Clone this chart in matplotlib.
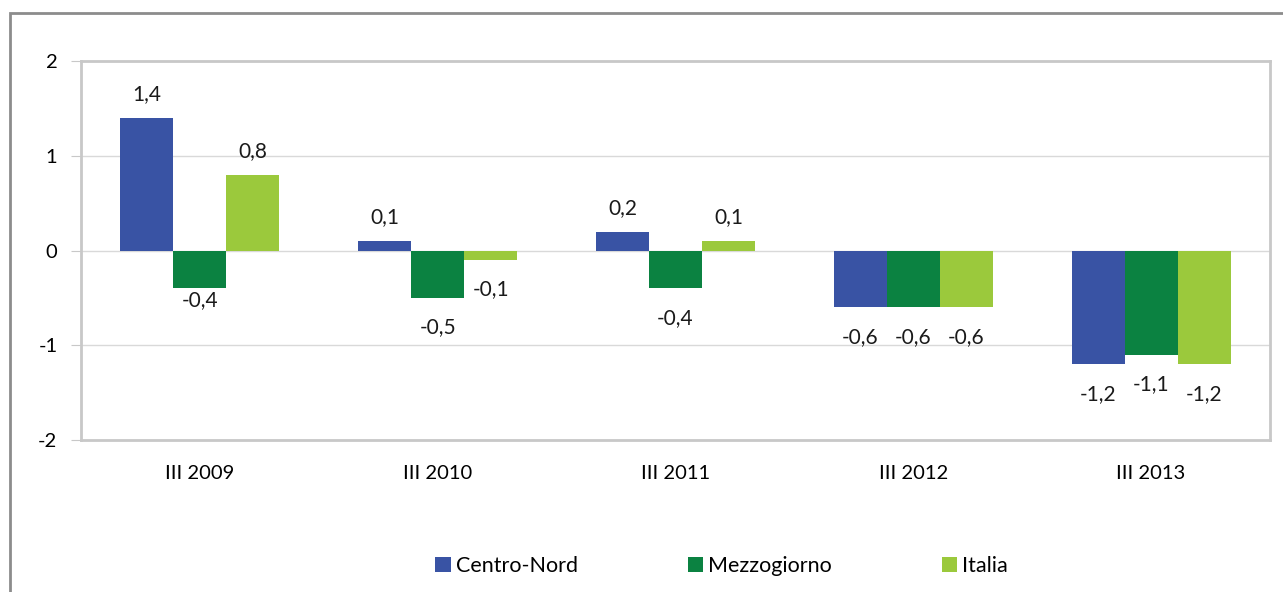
import numpy as np
import matplotlib.pyplot as plt
from matplotlib.patches import Rectangle

plt.rcParams['font.family'] = ['Lato', 'DejaVu Sans']

categories = ['III 2009', 'III 2010', 'III 2011', 'III 2012', 'III 2013']
centro_nord = [1.4, 0.1, 0.2, -0.6, -1.2]
mezzogiorno = [-0.4, -0.5, -0.4, -0.6, -1.1]
italia = [0.8, -0.1, 0.1, -0.6, -1.2]

series = [('Centro-Nord', centro_nord, '#3953a4'),
          ('Mezzogiorno', mezzogiorno, '#0b8241'),
          ('Italia', italia, '#9bc93c')]

# one label sits closer to its bar in the original
nudge = {(1, 0): 13}

fig = plt.figure(figsize=[12.83, 5.92], dpi=100)
ax = fig.add_axes([81 / 1283, 1 - 440 / 592, (1270 - 81) / 1283, (440 - 61) / 592])

x = np.arange(len(categories))
w = 0.223
for i, (name, vals, col) in enumerate(series):
    pos = x + (i - 1) * w
    ax.bar(pos, vals, w, color=col, label=name, zorder=3)
    for j, (xp, v) in enumerate(zip(pos, vals)):
        lab = ('%.1f' % v).replace('.', ',')
        if v >= 0:
            ax.annotate(lab, (xp, v), xytext=(0, 10), textcoords='offset points',
                        ha='center', va='bottom', fontsize=15, color='#1a1a1a')
        else:
            dy = -14 + nudge.get((i, j), 0)
            ax.annotate(lab, (xp, v), xytext=(0, dy), textcoords='offset points',
                        ha='center', va='top', fontsize=15, color='#1a1a1a')

ax.set_xlim(-0.5, len(categories) - 0.5)
ax.set_ylim(-2, 2)
ax.set_yticks([-2, -1, 0, 1, 2])
ax.set_yticklabels(['-2', '-1', '0', '1', '2'], fontsize=14.5)
ax.set_xticks(x)
ax.set_xticklabels(categories, fontsize=14.5)
ax.tick_params(axis='x', length=0, pad=18)
ax.tick_params(axis='y', length=7, color='#c8c8c8', pad=10)
ax.grid(axis='y', color='#d9d9d9', linewidth=1, zorder=0)
for s in ax.spines.values():
    s.set_color('#c8c8c8')
    s.set_linewidth(2)

fig.legend(loc='center', bbox_to_anchor=(0.5625, 1 - 566 / 592), ncol=3,
           frameon=False, fontsize=15.5, handlelength=0.7, handleheight=0.7,
           handletextpad=0.25, columnspacing=5.1)

# outer chart border
fig.patches.append(Rectangle((10 / 1283, -0.1), 1.2, 1 - 13 / 592 + 0.1,
                             transform=fig.transFigure, fill=False,
                             edgecolor='#8c8c8c', linewidth=2))

plt.savefig('out.png', dpi=100)
